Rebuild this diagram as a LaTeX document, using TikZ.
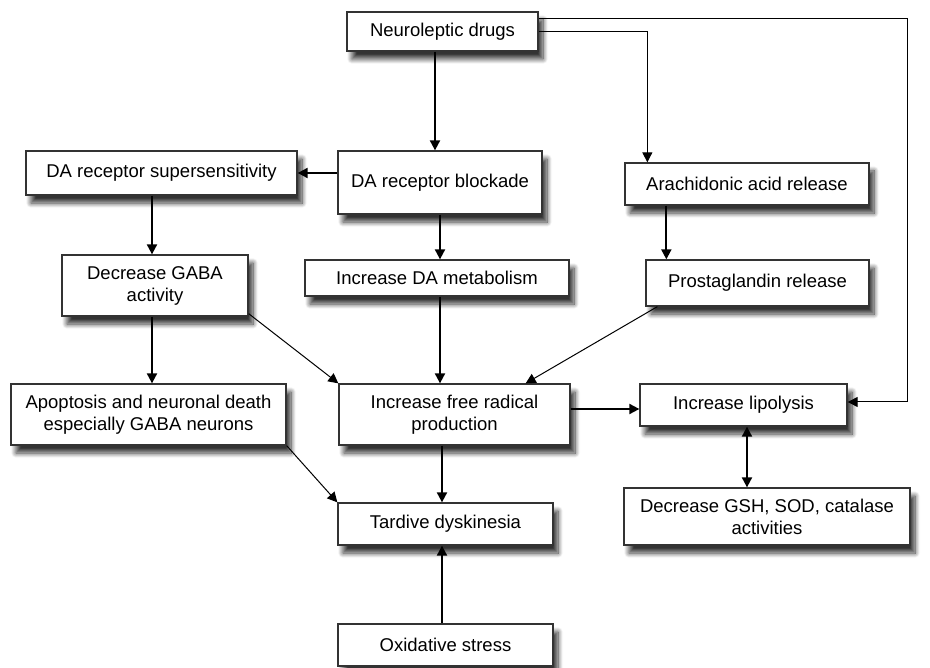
\documentclass[tikz,border=0pt]{standalone}
\usepackage{fontspec}
\setmainfont{Liberation Sans}
\usetikzlibrary{arrows.meta,shadows.blur,calc}
\begin{document}
\begin{tikzpicture}[x=1pt,y=-1pt,
  box/.style={draw=black!80, line width=1.3pt, fill=white, align=center,
    inner sep=0pt, font=\fontsize{18.5}{22}\selectfont,
    blur shadow={shadow xshift=5pt, shadow yshift=-8pt, shadow blur radius=5pt, shadow blur steps=10, shadow opacity=80}},
  thick arrow/.style={line width=2pt, -{Triangle[length=10pt,width=10pt]}},
  thin arrow/.style={line width=1pt, -{Triangle[length=10pt,width=10pt]}},
  both arrow/.style={line width=2pt, {Triangle[length=10pt,width=10pt]}-{Triangle[length=10pt,width=10pt]}}
]
\useasboundingbox (0,0) rectangle (930,668);
\node[box, minimum width=191pt, minimum height=39pt] (nd) at (442.5,31.5) {Neuroleptic drugs};
\node[box, minimum width=271pt, minimum height=44pt] (sup) at (161.5,173) {DA receptor supersensitivity};
\node[box, minimum width=204pt, minimum height=63pt] (blk) at (440,182.5) {DA receptor blockade};
\node[box, minimum width=244pt, minimum height=42pt] (ara) at (747,184) {Arachidonic acid release};
\node[box, minimum width=186pt, minimum height=61pt] (gaba) at (155,285.5) {Decrease GABA\\activity};
\node[box, minimum width=264pt, minimum height=36pt] (met) at (437,278) {Increase DA metabolism};
\node[box, minimum width=223pt, minimum height=46pt] (pro) at (757.5,283) {Prostaglandin release};
\node[box, minimum width=275pt, minimum height=61pt] (apo) at (148.5,414.5) {Apoptosis and neuronal death\\especially GABA neurons};
\node[box, minimum width=231pt, minimum height=61pt] (frp) at (454.5,414.5) {Increase free radical\\production};
\node[box, minimum width=207pt, minimum height=42pt] (lip) at (743.5,405) {Increase lipolysis};
\node[box, minimum width=286pt, minimum height=57pt] (gsh) at (767,516.5) {Decrease GSH, SOD, catalase\\activities};
\node[box, minimum width=215pt, minimum height=42pt] (tar) at (445.5,524) {Tardive dyskinesia};
\node[box, minimum width=215pt, minimum height=42pt] (ox) at (445.5,645) {Oxidative stress};

% connectors
\draw[thin arrow] ([yshift=12.5pt]nd.east) -| ([xshift=60pt,yshift=3pt]lip.east) -- ([yshift=3pt]lip.east);
\draw[thin arrow] (nd.east) -| ([xshift=23pt]ara.north west);
\draw[thick arrow] ([xshift=-5pt]blk.north |- nd.south) -- ([xshift=-5pt]blk.north);
\draw[thick arrow] (sup.east -| blk.west) -- (sup.east);
\draw[thick arrow] ([xshift=-3pt]gaba.north |- sup.south) -- ([xshift=-3pt]gaba.north);
\draw[thick arrow] (blk.south) -- (blk.south |- met.north);
\draw[thick arrow] ([xshift=21pt]pro.north west |- ara.south) -- ([xshift=21pt]pro.north west);
\draw[thick arrow] ([xshift=-3pt]gaba.south) -- ([xshift=-3pt]gaba.south |- apo.north);
\draw[thin arrow] ([yshift=3pt]gaba.south east) -- (frp.north west);
\draw[thick arrow] ([xshift=3pt]met.south) -- ([xshift=3pt]met.south |- frp.north);
\draw[thin arrow] ([xshift=12pt]pro.south west) -- ([xshift=-45pt]frp.north east);
\draw[thick arrow] ([yshift=5.5pt]frp.east) -- ([yshift=5.5pt]frp.east -| lip.west);
\draw[both arrow] ([xshift=3.5pt]lip.south) -- ([xshift=3.5pt]lip.south |- gsh.north);
\draw[thick arrow] ([xshift=-3.5pt]tar.north |- frp.south) -- ([xshift=-3.5pt]tar.north);
\draw[thin arrow] (apo.south east) -- (tar.north west);
\draw[thick arrow] ([xshift=-3.5pt]ox.north) -- ([xshift=-3.5pt]tar.south);
\end{tikzpicture}
\end{document}
